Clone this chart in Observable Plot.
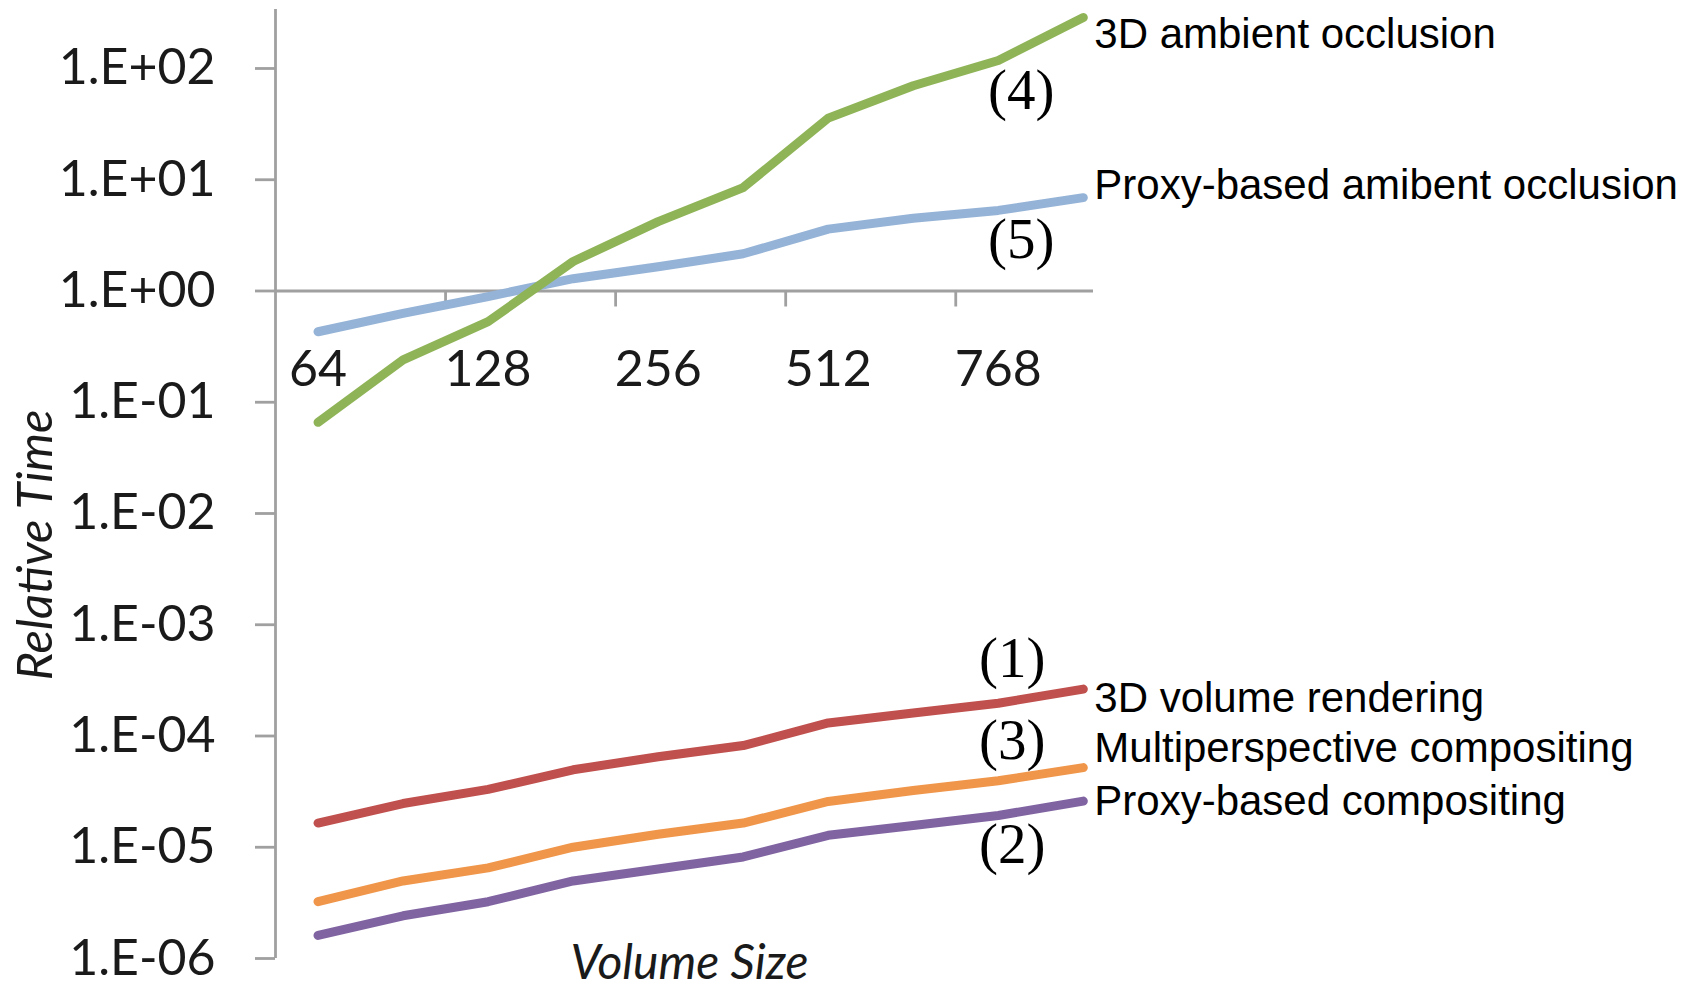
<!DOCTYPE html>
<html><head><meta charset="utf-8">
<script src="https://cdn.jsdelivr.net/npm/d3@7"></script>
<script src="https://cdn.jsdelivr.net/npm/@observablehq/plot@0.6"></script>
<style>body{margin:0;background:#fff;}</style>
</head><body><div id="chart"></div>
<script>
// Categories (volume sizes); only every other one is labelled
const categories = ["64","96","128","192","256","384","512","640","768","1024"];
const xTickLabels = ["64","128","256","512","768"];
const xTickMarks = [1.5, 3.5, 5.5, 7.5]; // category boundaries (index units)
const yTicks = [1e-6,1e-5,1e-4,1e-3,1e-2,1e-1,1e0,1e1,1e2];
const yTickLabels = ["1.E-06","1.E-05","1.E-04","1.E-03","1.E-02","1.E-01","1.E+00","1.E+01","1.E+02"];

const seriesNames = ["Proxy-based amibent occlusion","3D ambient occlusion","3D volume rendering","Multiperspective compositing","Proxy-based compositing"];
const seriesTags = ["(5)","(4)","(1)","(3)","(2)"];

const proxyAmbient = [0.43,0.63,0.89,1.29,1.65,2.16,3.6,4.5,5.3,6.9];
const ambient3D = [0.066,0.24,0.53,1.84,4.2,8.5,35.8,70,118,287];
const volume3D = [1.65e-5,2.47e-5,3.31e-5,4.97e-5,6.5e-5,8.2e-5,1.31e-4,1.61e-4,1.97e-4,2.64e-4];
const multiComp = [3.24e-6,4.98e-6,6.53e-6,1.0e-5,1.31e-5,1.65e-5,2.58e-5,3.24e-5,3.96e-5,5.2e-5];
const proxyComp = [1.61e-6,2.42e-6,3.24e-6,4.98e-6,6.38e-6,8.18e-6,1.28e-5,1.57e-5,1.93e-5,2.6e-5];

const seriesValues = [proxyAmbient, ambient3D, volume3D, multiComp, proxyComp];
const colors = ["#95b3d7","#8fb457","#c0504d","#f0964a","#8064a2"];
const labelDy = [-12, 17, 9, -19, 0];
const tagDx = [-62, -62, -71, -71, -71];
const tagDy = [42, 73, -30, -27, 44];

const axisGray = "#a0a0a0";
const xDomain = [-0.5, 9.12];

const marks = [];
marks.push(Plot.ruleX([xDomain[0]], {stroke: axisGray, strokeWidth: 2.8}));
marks.push(Plot.ruleY([1], {stroke: axisGray, strokeWidth: 2.8}));
marks.push(Plot.ruleX(xTickMarks, {y1: 1, y2: 1, insetBottom: -16, stroke: axisGray, strokeWidth: 2.8}));
marks.push(Plot.axisY({
  ticks: yTicks,
  tickFormat: d => yTickLabels[yTicks.indexOf(d)],
  tickSize: 20, tickPadding: 40,
  stroke: axisGray, strokeWidth: 2.8,
  fill: "#1a1a1a", fontSize: 50, fontFamily: "Lato", label: null
}));
marks.push(Plot.text(xTickLabels, {
  x: d => categories.indexOf(d), y: 1, dy: 79, text: d => d,
  fontSize: 50, fontFamily: "Lato", fill: "#1a1a1a"
}));

seriesValues.forEach((vals, k) => {
  marks.push(Plot.line(vals, {
    x: (d, i) => i, y: d => d, stroke: colors[k], strokeWidth: 9,
    strokeLinecap: "round", strokeLinejoin: "round"
  }));
});
seriesValues.forEach((vals, k) => {
  marks.push(Plot.text(vals, Plot.selectLast({
    x: (d, i) => i, y: d => d, text: () => seriesNames[k],
    textAnchor: "start", dx: 11, dy: labelDy[k],
    fontSize: 42, fontFamily: "Liberation Sans", fill: "#000"
  })));
  marks.push(Plot.text(vals, Plot.selectLast({
    x: (d, i) => i, y: d => d, text: () => seriesTags[k],
    textAnchor: "middle", dx: tagDx[k], dy: tagDy[k],
    fontSize: 57, fontFamily: "Liberation Serif", fill: "#000"
  })));
});

marks.push(Plot.text(["Relative Time"], {
  frameAnchor: "left", rotate: -90, dx: -239, dy: 61,
  textAnchor: "middle", lineAnchor: "middle",
  fontSize: 49, fontFamily: "Lato", fontStyle: "italic", fill: "#1a1a1a"
}));
marks.push(Plot.text(["Volume Size"], {
  frameAnchor: "bottom", dx: 5, dy: 5,
  textAnchor: "middle", lineAnchor: "middle",
  fontSize: 48, fontFamily: "Lato", fontStyle: "italic", fill: "#1a1a1a"
}));

const chart = Plot.plot({
  width: 1708, height: 988,
  marginLeft: 275, marginRight: 615, marginTop: 9, marginBottom: 30,
  style: {background: "#fff", fontFamily: "Lato", overflow: "visible"},
  x: {type: "linear", domain: xDomain, axis: null},
  y: {type: "log", domain: [1e-6, 339], axis: null},
  marks
});
document.getElementById("chart").appendChild(chart);
</script>
</body></html>
